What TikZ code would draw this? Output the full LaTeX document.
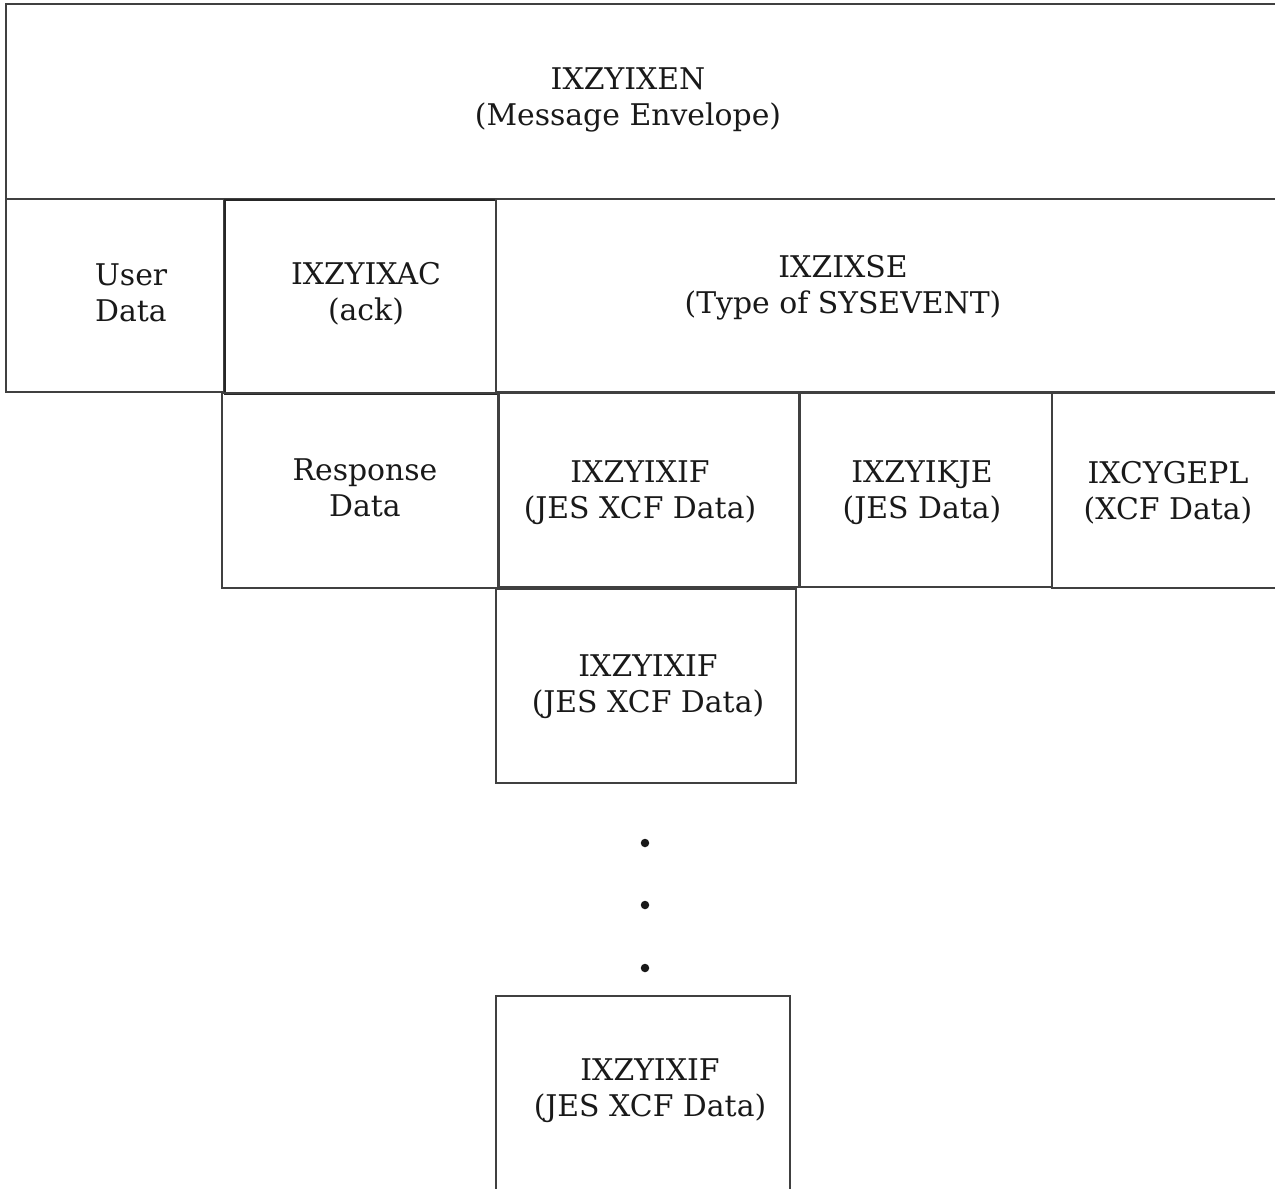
\documentclass[tikz,border=0pt]{standalone}
\usepackage{fontspec}
\setmainfont{DejaVu Serif}
\usepackage{tikz}
\usetikzlibrary{positioning}

\begin{document}
\begin{tikzpicture}[
    x=0.02cm, y=-0.02cm,
    cell/.style 2 args={draw=black!75, line width=0.03cm, rectangle, inner sep=0pt, outer sep=0pt,
        anchor=north west, minimum width=#1*0.02cm, minimum height=#2*0.02cm},
    label/.style={align=center, font=\fontsize{17}{20.5}\selectfont, text=black!90},
    dot/.style={circle, fill=black!90, inner sep=0pt, minimum size=0.17cm}
]
    \clip (0,0) rectangle (1275,1188);

    % Envelope
    \node[cell={1294}{195}] (env) at (6,4) {};
    \node[label] (envtext) at (628,100) {IXZYIXEN\\(Message Envelope)};

    % Second row
    \node[cell={218}{193}] (user) at (6,199) {};
    \node[cell={271}{194}, line width=0.04cm, draw=black!85] (ack) at (225,200) {};
    \node[cell={804}{193}] (sysevent) at (496,199) {};
    \node[label] (usertext) at (131,293) {User\\Data};
    \node[label] (acktext) at (366,294) {IXZYIXAC\\(ack)};
    \node[label] (syseventtext) at (843,288) {IXZIXSE\\(Type of SYSEVENT)};

    % Third row
    \node[cell={276}{195}] (resp) at (222,393) {};
    \node[cell={300}{194}] (jesxcf) at (499,393) {};
    \node[cell={252}{194}] (jes) at (800,393) {};
    \node[cell={248}{195}] (xcf) at (1052,393) {};
    \node[label] (resptext) at (365,488) {Response\\Data};
    \node[label] (jesxcftext) at (640,493) {IXZYIXIF\\(JES XCF Data)};
    \node[label] (jestext) at (922,493) {IXZYIKJE\\(JES Data)};
    \node[label] (xcftext) at (1168,493) {IXCYGEPL\\(XCF Data)};

    % Repeated entries
    \node[cell={300}{194}] (jesxcfb) at (496,589) {};
    \node[label] (jesxcfbtext) at (648,687) {IXZYIXIF\\(JES XCF Data)};

    \node[dot] (dota) at (645,843) {};
    \node[dot] (dotb) at (645,905) {};
    \node[dot] (dotc) at (645,968) {};

    \node[cell={294}{224}] (jesxcfn) at (496,996) {};
    \node[label] (jesxcfntext) at (650,1091) {IXZYIXIF\\(JES XCF Data)};
\end{tikzpicture}
\end{document}
